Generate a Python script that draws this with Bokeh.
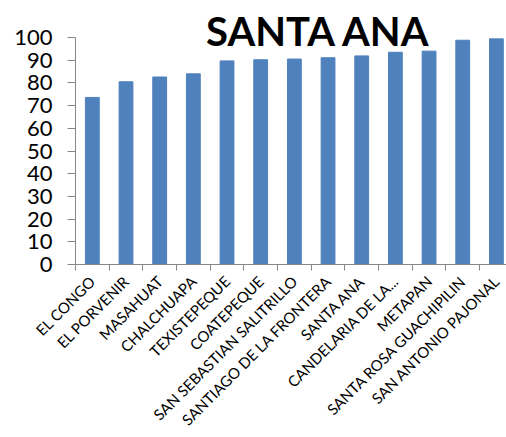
import math
from bokeh.plotting import figure
from bokeh.models import Range1d, FixedTicker, Label
from bokeh.embed import file_html
from bokeh.resources import INLINE

municipios = ["EL CONGO", "EL PORVENIR", "MASAHUAT", "CHALCHUAPA", "TEXISTEPEQUE",
              "COATEPEQUE", "SAN SEBASTIAN SALITRILLO", "SANTIAGO DE LA FRONTERA",
              "SANTA ANA", "CANDELARIA DE LA...", "METAPAN", "SANTA ROSA GUACHIPILIN",
              "SAN ANTONIO PAJONAL"]
valores = [73.6, 80.5, 82.6, 84.0, 89.7, 90.2, 90.5, 91.1, 91.9, 93.5, 94.0, 98.8, 99.4]
titulo = "SANTA ANA"
y_ticks = [0, 10, 20, 30, 40, 50, 60, 70, 80, 90, 100]

n = len(municipios)
centers = [i + 0.5 for i in range(n)]
bounds = list(range(n))

p = figure(width=506, height=437, output_backend="svg", toolbar_location=None,
           x_range=Range1d(0, 12.8), y_range=Range1d(0, 111.9),
           min_border_left=75, min_border_right=0, min_border_top=10,
           outline_line_color=None)
p.vbar(x=centers, top=valores, width=0.41, fill_color="#4F81BD", line_color="#4F81BD")

p.xgrid.visible = False
p.ygrid.visible = False

xa = p.xaxis[0]
xa.ticker = FixedTicker(ticks=centers, minor_ticks=bounds)
xa.major_label_overrides = {c: m for c, m in zip(centers, municipios)}
xa.major_label_orientation = math.pi / 4
xa.major_tick_line_color = None
xa.minor_tick_in = 0
xa.minor_tick_out = 6
xa.minor_tick_line_color = "#868686"
xa.axis_line_color = "#868686"
xa.major_label_text_font = "Lato"
xa.major_label_text_font_size = "15px"
xa.major_label_text_color = "#000000"
xa.major_label_standoff = 8

ya = p.yaxis[0]
ya.ticker = FixedTicker(ticks=y_ticks)
ya.bounds = (0, 100)
ya.minor_tick_line_color = None
ya.major_tick_in = 0
ya.major_tick_out = 8
ya.major_tick_line_color = "#868686"
ya.axis_line_color = "#868686"
ya.major_label_text_font = "Lato"
ya.major_label_text_font_size = "22px"
ya.major_label_text_color = "#000000"
ya.major_label_standoff = 15

p.add_layout(Label(x=7.22, y=102.9, text=titulo, text_font="Lato", text_font_style="bold",
                   text_font_size="40px", text_align="center", text_baseline="middle",
                   text_color="#000000", level="overlay"))

open("out.html", "w").write(file_html(p, INLINE))
